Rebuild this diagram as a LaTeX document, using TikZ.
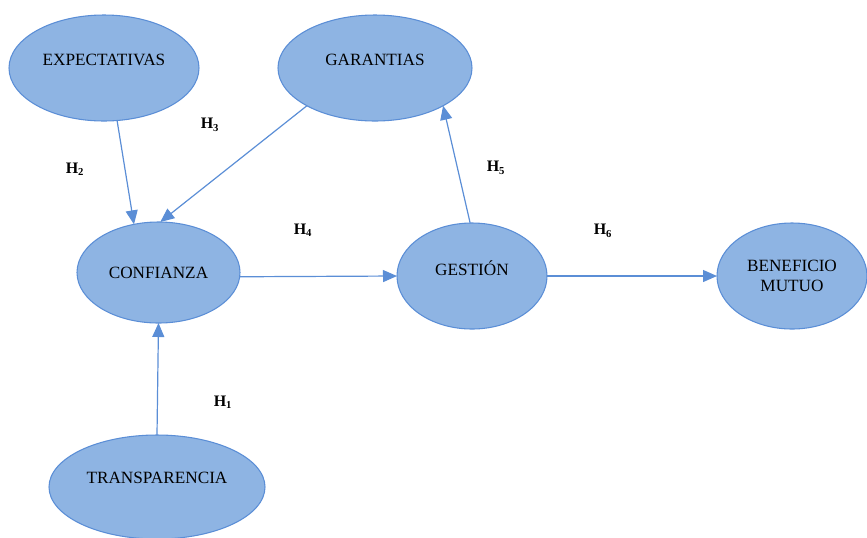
\documentclass[tikz,border=0pt]{standalone}
\usepackage{fontspec}
\setmainfont{Liberation Serif}
\usetikzlibrary{shapes.geometric,arrows.meta}
\definecolor{modelfill}{HTML}{8EB4E3}
\definecolor{modelline}{HTML}{5B8ED6}
\tikzset{
  construct/.style={ellipse,draw=modelline,fill=modelfill,line width=0.8pt,
    inner sep=0pt,outer sep=0pt,align=center,font=\fontsize{12.9}{14.5}\selectfont},
  caption/.style={inner sep=0pt,font=\fontsize{12.9}{14.5}\selectfont},
  link/.style={draw=modelline,line width=0.9pt,-{Triangle[length=10.5pt,width=9pt]}},
  hyp/.style={inner sep=0pt,font=\bfseries\fontsize{12}{14}\selectfont}
}

\begin{document}
\begin{tikzpicture}[x=0.75pt,y=-0.75pt]
  \useasboundingbox (0,0) rectangle (867,537);
  \node[construct,minimum width=142.5pt,minimum height=79.5pt,
    label={[caption,yshift=6pt]center:EXPECTATIVAS}] (exp) at (104,68) {};
  \node[construct,minimum width=145.5pt,minimum height=79.5pt,
    label={[caption,yshift=6pt]center:GARANTIAS}] (gar) at (375,68) {};
  \node[construct,minimum width=122.25pt,minimum height=75.75pt] (conf) at (158.5,272.5) {CONFIANZA};
  \node[construct,minimum width=112.5pt,minimum height=79.5pt,
    label={[caption,yshift=6pt]center:GESTIÓN}] (ges) at (472,276) {};
  \node[construct,minimum width=112.5pt,minimum height=79.5pt] (ben) at (792,276) {BENEFICIO\\MUTUO};
  \node[construct,minimum width=162pt,minimum height=78pt,
    label={[caption,yshift=6.75pt]center:TRANSPARENCIA}] (trans) at (157,487) {};

  \draw[link] (exp.-76) -- (conf.117);
  \draw[link] (gar.209) -- (conf.88);
  \draw[link] (trans.north) -- (conf.south);
  \draw[link] (conf.-3) -- (ges.west);
  \draw[link] (ges.92) -- (gar.-29);
  \draw[link] (ges.east) -- (ben.west);

  \node[hyp] (h1) at (223,402) {H\textsubscript{1}};
  \node[hyp] (h2) at (75,169) {H\textsubscript{2}};
  \node[hyp] (h3) at (210,125) {H\textsubscript{3}};
  \node[hyp] (h4) at (303,230) {H\textsubscript{4}};
  \node[hyp] (h5) at (496,168) {H\textsubscript{5}};
  \node[hyp] (h6) at (603,231) {H\textsubscript{6}};
\end{tikzpicture}
\end{document}
